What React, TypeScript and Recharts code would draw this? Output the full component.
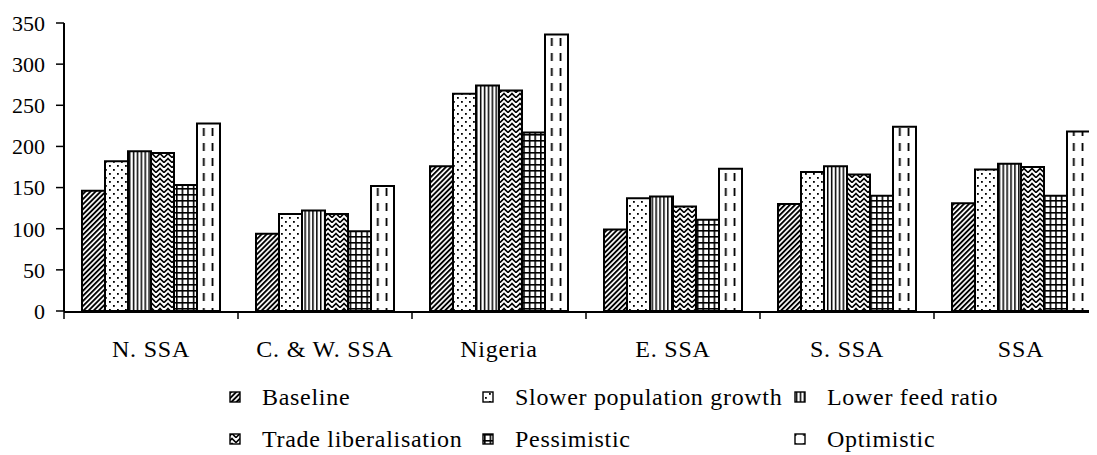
import React from 'react';
import { BarChart, Bar, XAxis, YAxis } from 'recharts';

const regions = ['N. SSA', 'C. & W. SSA', 'Nigeria', 'E. SSA', 'S. SSA', 'SSA'];
const baseline = [146, 94, 176, 99, 130, 131];
const slowerPopulation = [182, 118, 264, 137, 169, 172];
const lowerFeed = [194, 122, 274, 139, 176, 179];
const tradeLib = [192, 118, 268, 127, 166, 175];
const pessimistic = [153, 97, 217, 111, 140, 140];
const optimistic = [228, 152, 336, 173, 224, 218];
const yTicks = [0, 50, 100, 150, 200, 250, 300, 350];
const edgeTicks = [0, 1, 2, 3, 4, 5, 6];

const series = [
  { key: 'baseline', name: 'Baseline', values: baseline, pat: 'p-base' },
  { key: 'slower', name: 'Slower population growth', values: slowerPopulation, pat: 'p-slow' },
  { key: 'feed', name: 'Lower feed ratio', values: lowerFeed, pat: 'p-feed' },
  { key: 'trade', name: 'Trade liberalisation', values: tradeLib, pat: 'p-trade' },
  { key: 'pess', name: 'Pessimistic', values: pessimistic, pat: 'p-pess' },
  { key: 'opt', name: 'Optimistic', values: optimistic, pat: 'p-opt' },
];

const data = regions.map((r, i) => {
  const row: Record<string, number | string> = { region: r, pos: i + 0.5 };
  series.forEach((s) => {
    row[s.key] = s.values[i];
  });
  return row;
});

const FONT = '"Liberation Serif", "Times New Roman", serif';

const legendCols = [222, 475, 787];
const legendTextOffset = 32;
const legendRows = [397, 439];

export default function App() {
  return (
    <div style={{ position: 'relative', width: 1089, height: 447, overflow: 'hidden', background: '#fff' }}>
      <svg width={0} height={0} style={{ position: 'absolute' }}>
        <defs>
          <pattern id="p-base" patternUnits="userSpaceOnUse" width="3.6" height="10" patternTransform="rotate(45)">
            <rect width="3.6" height="10" fill="#fff" />
            <rect width="1.9" height="10" fill="#000" />
          </pattern>
          <pattern id="p-slow" patternUnits="userSpaceOnUse" width="8" height="8">
            <rect width="8" height="8" fill="#fff" />
            <rect x="1" y="1" width="1.8" height="1.8" fill="#000" />
            <rect x="5" y="5" width="1.8" height="1.8" fill="#000" />
          </pattern>
          <pattern id="p-feed" patternUnits="userSpaceOnUse" width="3.9" height="10">
            <rect width="3.9" height="10" fill="#fff" />
            <rect width="1.5" height="10" fill="#000" />
          </pattern>
          <pattern id="p-trade" patternUnits="userSpaceOnUse" width="8" height="5">
            <rect width="8" height="5" fill="#fff" />
            <path d="M-1,-0.5 L4,4.5 L9,-0.5" stroke="#000" strokeWidth="1.6" fill="none" />
            <path d="M-1,4.5 L4,9.5 L9,4.5" stroke="#000" strokeWidth="1.6" fill="none" />
          </pattern>
          <pattern id="p-pess" patternUnits="userSpaceOnUse" width="5.6" height="6">
            <rect width="5.6" height="6" fill="#fff" />
            <rect width="1.6" height="6" fill="#000" />
            <rect width="5.6" height="1.6" fill="#000" />
          </pattern>
          <pattern id="p-opt" patternUnits="userSpaceOnUse" width="8.7" height="15">
            <rect width="8.7" height="15" fill="#fff" />
            <rect x="3.5" y="0" width="1.8" height="8" fill="#000" />
          </pattern>
        </defs>
      </svg>
      <BarChart
        width={1100}
        height={447}
        data={data}
        margin={{ top: 15, right: 0, left: 0, bottom: 103 }}
        barGap={0}
      >
        <XAxis
          xAxisId="a"
          dataKey="pos"
          type="number"
          domain={[0, 6]}
          ticks={edgeTicks}
          interval={0}
          height={1}
          axisLine={false}
          tickSize={8}
          tickLine={{ stroke: '#000', strokeWidth: 1.5 }}
          tick={() => <g />}
          allowDataOverflow
        />
        <XAxis
          xAxisId="b"
          dataKey="region"
          height={40}
          tickLine={false}
          tickSize={8}
          tickMargin={20}
          axisLine={{ stroke: '#000', strokeWidth: 2 }}
          tick={{ fill: '#000', fontSize: 24, fontFamily: FONT, letterSpacing: 0.8 }}
          interval={0}
        />
        <YAxis
          width={56}
          domain={[0, 350]}
          ticks={yTicks}
          interval={0}
          tickSize={8}
          tickMargin={11}
          axisLine={{ stroke: '#000', strokeWidth: 2 }}
          tickLine={{ stroke: '#000', strokeWidth: 1.5 }}
          tick={{ fill: '#000', fontSize: 22, fontFamily: FONT }}
        />
        {series.map((s) => (
          <Bar
            key={s.key}
            xAxisId="b"
            dataKey={s.key}
            name={s.name}
            barSize={23}
            fill={`url(#${s.pat})`}
            stroke="#000"
            strokeWidth={2}
            isAnimationActive={false}
          />
        ))}
      </BarChart>
      <svg width={1089} height={447} style={{ position: 'absolute', left: 0, top: 0, pointerEvents: 'none' }}>
        {series.map((s, i) => {
          const col = i % 3;
          const row = Math.floor(i / 3);
          const x = legendCols[col];
          const y = legendRows[row];
          return (
            <g key={s.key}>
              <rect x={x} y={y - 13} width={10} height={10} fill={`url(#${s.pat})`} stroke="#000" strokeWidth={1.4} />
              <text x={x + legendTextOffset} y={y} fontSize={24} fontFamily={FONT} letterSpacing={0.7} fill="#000">
                {s.name}
              </text>
            </g>
          );
        })}
      </svg>
    </div>
  );
}
